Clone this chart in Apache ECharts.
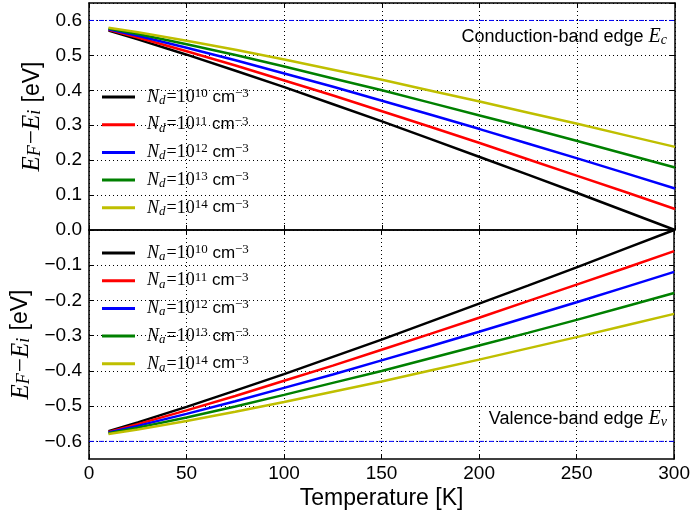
<!DOCTYPE html>
<html><head><meta charset="utf-8">
<script src="https://cdn.jsdelivr.net/npm/echarts@6/dist/echarts.min.js"></script>
<style>html,body{margin:0;padding:0;background:#fff}#c{width:693px;height:513px}</style>
</head><body><div id="c"></div>
<script>
// ---- data ----
const temperature = [10, 25, 50, 75, 100, 125, 150, 175, 200, 225, 250, 275, 300];
const Nd10 = [0.571, 0.546, 0.502, 0.456, 0.409, 0.360, 0.311, 0.260, 0.209, 0.158, 0.106, 0.053, 0.000];
const Nd11 = [0.573, 0.551, 0.512, 0.471, 0.428, 0.385, 0.340, 0.295, 0.249, 0.202, 0.155, 0.108, 0.060];
const Nd12 = [0.575, 0.556, 0.522, 0.486, 0.448, 0.410, 0.370, 0.330, 0.289, 0.247, 0.205, 0.162, 0.119];
const Nd13 = [0.577, 0.561, 0.532, 0.501, 0.468, 0.434, 0.400, 0.364, 0.328, 0.292, 0.255, 0.217, 0.179];
const Nd14 = [0.579, 0.566, 0.542, 0.516, 0.488, 0.459, 0.430, 0.399, 0.368, 0.336, 0.304, 0.271, 0.238];
const Na10 = [-0.571, -0.546, -0.502, -0.456, -0.409, -0.360, -0.311, -0.260, -0.209, -0.158, -0.106, -0.053, -0.000];
const Na11 = [-0.573, -0.551, -0.512, -0.471, -0.428, -0.385, -0.340, -0.295, -0.249, -0.202, -0.155, -0.108, -0.060];
const Na12 = [-0.575, -0.556, -0.522, -0.486, -0.448, -0.410, -0.370, -0.330, -0.289, -0.247, -0.205, -0.162, -0.119];
const Na13 = [-0.577, -0.561, -0.532, -0.501, -0.468, -0.434, -0.400, -0.364, -0.328, -0.292, -0.255, -0.217, -0.179];
const Na14 = [-0.579, -0.566, -0.542, -0.516, -0.488, -0.459, -0.430, -0.399, -0.368, -0.336, -0.304, -0.271, -0.238];
const exponents = ['10', '11', '12', '13', '14'];
const yBottomTicks = [-0.6, -0.5, -0.4, -0.3, -0.2, -0.1];
const conductionEdge = 0.6;
const valenceEdge = -0.6;

// ---- styling ----
const colors = ['#000000', '#ff0000', '#0000ff', '#008000', '#bfbf00'];
const SANS = 'Liberation Sans, Arial, sans-serif';
const SERIF = 'Liberation Serif, DejaVu Serif, serif';
const mathRich = (fs) => ({
  i: { fontFamily: SERIF, fontStyle: 'italic', fontSize: fs, color: '#000' },
  r: { fontFamily: SERIF, fontSize: fs, color: '#000' },
  s: { fontFamily: SANS, fontSize: Math.round(fs * 0.92), color: '#000' },
  sub: { fontFamily: SERIF, fontStyle: 'italic', fontSize: Math.round(fs * 0.7), color: '#000', verticalAlign: 'bottom', padding: [0, 1, 0, 0] },
  sup: { fontFamily: SERIF, fontSize: Math.round(fs * 0.7), color: '#000', verticalAlign: 'top' },
  supS: { fontFamily: SERIF, fontSize: Math.round(fs * 0.7), color: '#000', verticalAlign: 'top' }
});

const dSeriesData = [Nd10, Nd11, Nd12, Nd13, Nd14];
const aSeriesData = [Na10, Na11, Na12, Na13, Na14];
const series = [];
dSeriesData.forEach((arr, k) => {
  series.push({
    name: 'd' + exponents[k], type: 'line', xAxisIndex: 0, yAxisIndex: 0,
    symbol: 'none', smooth: false, z: 5,
    lineStyle: { color: colors[k], width: 2.5 }, itemStyle: { color: colors[k] },
    data: temperature.map((t, i) => [t, arr[i]])
  });
});
aSeriesData.forEach((arr, k) => {
  series.push({
    name: 'a' + exponents[k], type: 'line', xAxisIndex: 2, yAxisIndex: 2,
    symbol: 'none', smooth: false, z: 5,
    lineStyle: { color: colors[k], width: 2.5 }, itemStyle: { color: colors[k] },
    data: temperature.map((t, i) => [t, arr[i]])
  });
});
// band edges (blue dash-dot)
series.push({
  name: 'Ec', type: 'line', xAxisIndex: 0, yAxisIndex: 0, symbol: 'none', z: 8,
  lineStyle: { color: '#0000ff', width: 1, type: [5, 2, 1, 2] },
  data: [[0, conductionEdge], [300, conductionEdge]]
});
series.push({
  name: 'Ev', type: 'line', xAxisIndex: 2, yAxisIndex: 2, symbol: 'none', z: 8,
  lineStyle: { color: '#0000ff', width: 1, type: [5, 2, 1, 2] },
  data: [[0, valenceEdge], [300, valenceEdge]]
});

const gridLineStyle = { show: true, lineStyle: { color: '#000', width: 1, type: [1, 3] } };
const axisLineStyle = { show: true, onZero: false, lineStyle: { color: '#000', width: 1.5 } };
const tickIn = { show: true, inside: true, length: 5, lineStyle: { color: '#000', width: 1 } };
const labelFS = 19;

function xAxisDef(gridIndex, position, showLabel, showSplit, name) {
  return {
    type: 'value', gridIndex, position, min: 0, max: 300, interval: 50,
    axisLine: axisLineStyle,
    axisTick: tickIn,
    axisLabel: { show: showLabel, fontFamily: SANS, fontSize: labelFS, color: '#000', margin: 5 },
    splitLine: showSplit ? gridLineStyle : { show: false },
    name: name || '', nameLocation: 'middle', nameGap: 28,
    nameTextStyle: { fontFamily: SANS, fontSize: 23, color: '#000' }
  };
}
const yName = '{i|E}{sub|F}{r|−}{i|E}{sub|i}{s| [eV]}';
const fmtY = (v) => {
  if (Math.abs(v * 10 - Math.round(v * 10)) > 1e-6) return '';
  const a = Math.abs(v).toFixed(1);
  return v < -1e-9 ? '−' + a : a;
};

const legendCommon = {
  orient: 'vertical', left: 102, icon: 'rect',
  itemWidth: 33, itemHeight: 3, itemGap: 7.7, padding: 0,
  textStyle: { padding: [0, 0, 0, 7], lineHeight: 20, rich: mathRich(18) },
  backgroundColor: 'transparent'
};

const option = {
  animation: false,
  backgroundColor: '#fff',
  grid: [
    { left: 89, top: 3, width: 586, height: 227, show: false },
    { left: 89, top: 230, width: 586, height: 229, show: false }
  ],
  xAxis: [
    xAxisDef(0, 'bottom', false, true),
    xAxisDef(0, 'top', false, false),
    xAxisDef(1, 'bottom', true, true, 'Temperature [K]'),
    xAxisDef(1, 'top', false, false)
  ],
  yAxis: [
    {
      type: 'value', gridIndex: 0, position: 'left', min: 0, max: 0.65, interval: 0.1,
      axisLine: axisLineStyle, axisTick: tickIn,
      axisLabel: { fontFamily: SANS, fontSize: labelFS, color: '#000', margin: 7, formatter: fmtY, showMaxLabel: false },
      splitLine: gridLineStyle,
      name: yName, nameLocation: 'middle', nameGap: 44, nameRotate: 90,
      nameTextStyle: { rich: mathRich(25) }
    },
    {
      type: 'value', gridIndex: 0, position: 'right', min: 0, max: 0.65, interval: 0.1,
      axisLine: axisLineStyle, axisTick: tickIn, axisLabel: { show: false }, splitLine: { show: false }
    },
    {
      type: 'value', gridIndex: 1, position: 'left', min: -0.65, max: 0,
      axisLine: axisLineStyle,
      axisTick: Object.assign({}, tickIn, { customValues: yBottomTicks }),
      axisLabel: { fontFamily: SANS, fontSize: labelFS, color: '#000', margin: 7, formatter: fmtY, customValues: yBottomTicks },
      splitLine: gridLineStyle,
      name: yName, nameLocation: 'middle', nameGap: 44, nameRotate: 90,
      nameTextStyle: { rich: mathRich(25) }
    },
    {
      type: 'value', gridIndex: 1, position: 'right', min: -0.65, max: 0,
      axisLine: axisLineStyle,
      axisTick: Object.assign({}, tickIn, { customValues: yBottomTicks }),
      axisLabel: { show: false }, splitLine: { show: false }
    }
  ],
  legend: [
    Object.assign({}, legendCommon, {
      data: exponents.map(e => 'd' + e), top: 87,
      formatter: (n) => '{i|N}{sub|d}{r|=10}{sup|' + n.slice(1) + '}{s| cm}{supS|−3}'
    }),
    Object.assign({}, legendCommon, {
      data: exponents.map(e => 'a' + e), top: 243,
      formatter: (n) => '{i|N}{sub|a}{r|=10}{sup|' + n.slice(1) + '}{s| cm}{supS|−3}'
    })
  ],
  graphic: [
    {
      type: 'text', right: 26, top: 27, z: 10,
      style: { text: '{s|Conduction-band edge }{i|E}{sub|c}', rich: mathRich(20), align: 'right' }
    },
    {
      type: 'text', right: 26, top: 409, z: 10,
      style: { text: '{s|Valence-band edge }{i|E}{sub|v}', rich: mathRich(20), align: 'right' }
    }
  ],
  series
};
const chart = echarts.init(document.getElementById('c'), null, { renderer: 'canvas' });
chart.setOption(option);
</script>
</body></html>
